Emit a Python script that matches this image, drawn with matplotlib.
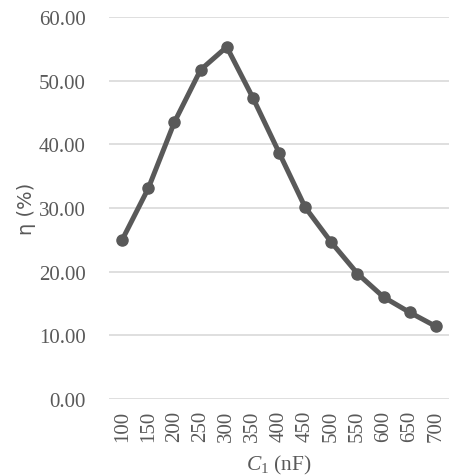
import matplotlib
matplotlib.use("Agg")
from matplotlib import pyplot as plt

capacitance = ["100", "150", "200", "250", "300", "350", "400",
               "450", "500", "550", "600", "650", "700"]
efficiency = [25.0, 33.1, 43.5, 51.7, 55.3, 47.3, 38.7,
              30.1, 24.6, 19.7, 16.0, 13.6, 11.4]
y_ticks = [0, 10, 20, 30, 40, 50, 60]

plt.rcParams["font.family"] = ["Liberation Serif", "DejaVu Serif"]
plt.rcParams["mathtext.fontset"] = "custom"
plt.rcParams["mathtext.it"] = "Liberation Serif:italic"
plt.rcParams["mathtext.rm"] = "Liberation Serif"

fig = plt.figure(figsize=(4.49, 4.77), dpi=100)
ax = fig.add_axes([0.243, 0.1614, 0.757, 0.8009])

xs = list(range(len(capacitance)))
ax.plot(xs, efficiency, color="#595959", linewidth=3.6,
        marker="o", markersize=8, zorder=3)

ax.set_xlim(-0.5, len(capacitance) - 0.5)
ax.set_ylim(0, 60)
ax.set_yticks(y_ticks)
ax.set_yticklabels(["{0:0.2f}".format(v) for v in y_ticks])
ax.set_xticks(xs)
ax.set_xticklabels(capacitance, rotation=90)

ax.grid(axis="y", color="#d9d9d9", linewidth=1.2)
ax.set_axisbelow(True)
for s in ax.spines.values():
    s.set_visible(False)
ax.tick_params(length=0, labelsize=15, colors="#595959")
ax.tick_params(axis="y", pad=17)
ax.tick_params(axis="x", pad=8)

ax.set_xlabel(r"$C_1$ (nF)", fontsize=15.5, color="#595959", labelpad=8)
ax.set_ylabel("η (%)", fontsize=14, color="#595959",
              family="DejaVu Sans", labelpad=2)

fig.savefig("out.png", dpi=100)
